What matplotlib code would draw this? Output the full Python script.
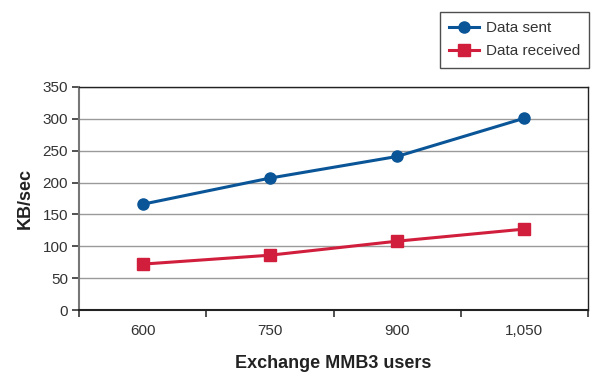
import matplotlib
matplotlib.use("Agg")
import matplotlib.pyplot as plt
from matplotlib import font_manager as fm

names = {f.name for f in fm.fontManager.ttflist}
cond = "Liberation Sans Narrow" if "Liberation Sans Narrow" in names else "Liberation Sans"
plt.rcParams['font.family'] = [cond, 'DejaVu Sans']

categories = ["600", "750", "900", "1,050"]
data_sent = [166, 207, 241, 301]
data_received = [72, 86, 108, 127]
yticks = [0, 50, 100, 150, 200, 250, 300, 350]

fig = plt.figure(figsize=(5.92, 3.74), dpi=100)
ax = fig.add_axes([79/592, 64/374, 509/592, 223/374])
x = list(range(len(categories)))
ax.plot(x, data_sent, color="#0A5597", lw=2.2, marker="o", ms=8, label="Data sent", zorder=3)
ax.plot(x, data_received, color="#D11E3C", lw=2.2, marker="s", ms=8, label="Data received", zorder=3)

ax.set_xlim(-0.5, len(categories) - 0.5)
ax.set_ylim(0, 350)
ax.set_yticks(yticks)
ax.set_yticklabels([str(v) for v in yticks], fontsize=11, color="#333333")
ax.set_xticks(x)
ax.set_xticklabels(categories, fontsize=11, color="#333333")
ax.set_xticks([i - 0.5 for i in range(len(categories) + 1)], minor=True)
ax.tick_params(axis="x", which="major", length=0, pad=10)
ax.tick_params(axis="x", which="minor", length=5, direction="out", width=1.2, color="#333333")
ax.tick_params(axis="y", length=5, width=1.2, color="#333333", pad=3)
ax.grid(axis="y", color="#9a9a9a", lw=1)
ax.set_axisbelow(True)
for s in ["top", "right"]:
    ax.spines[s].set_color("#222222")
    ax.spines[s].set_linewidth(1)
ax.spines["left"].set_color("#777777")
ax.spines["left"].set_linewidth(1.5)
ax.spines["bottom"].set_color("#222222")
ax.spines["bottom"].set_linewidth(1.5)

ax.set_ylabel("KB/sec", fontsize=13, fontweight="bold", labelpad=6, color="#222222")
ax.set_xlabel("Exchange MMB3 users", fontsize=13, fontweight="bold", labelpad=12, color="#222222")

leg = fig.legend(loc="upper right", bbox_to_anchor=(589/592, 1 - 12/374), borderaxespad=0,
                 fontsize=11, frameon=True, fancybox=False, edgecolor="#222222", handlelength=2.0,
                 borderpad=0.6, labelspacing=0.6, handletextpad=0.4)
leg.get_frame().set_linewidth(1)
for t in leg.get_texts():
    t.set_color("#333333")

fig.savefig("out.png", dpi=100)
